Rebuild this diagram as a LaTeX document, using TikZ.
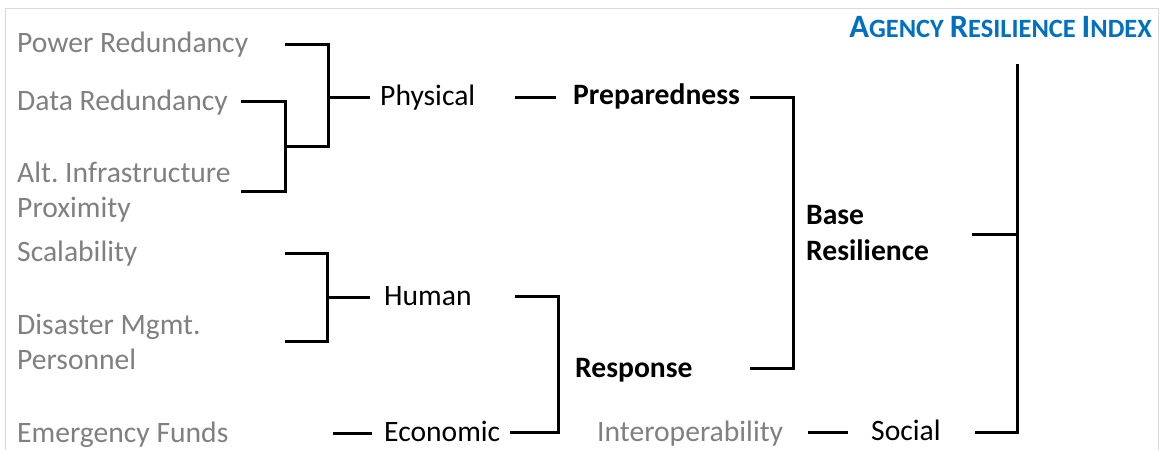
\documentclass[tikz,border=0pt]{standalone}
\usepackage{fontspec}
\setmainfont{Carlito}
\frenchspacing
\definecolor{lbl}{HTML}{808080}
\definecolor{ttl}{HTML}{0070C0}
\definecolor{frm}{HTML}{D9D9D9}
\begin{document}
\begin{tikzpicture}[x=1pt,y=-1pt,
  leaf/.style={anchor=base west,inner sep=0pt,text=lbl,font=\fontsize{29.6}{35}\selectfont\frenchspacing,align=left},
  mid/.style={anchor=base west,inner sep=0pt,text=black,font=\fontsize{29.6}{35}\selectfont},
  key/.style={anchor=base west,inner sep=0pt,text=black,font=\fontsize{29.6}{36}\selectfont\bfseries,align=left},
  link/.style={line width=3pt,line join=miter}]
\useasboundingbox (0,0) rectangle (1160,450);
\draw[frm,line width=1.5pt] (5.5,450) |- (1158.5,8.5) -- (1158.5,450);
% title
\node[anchor=base east,inner sep=0pt,text=ttl,font=\bfseries] (title) at (1152,37)
  {\fontsize{32.6}{35}\selectfont A\fontsize{26.4}{35}\selectfont GENCY
   \fontsize{32.6}{35}\selectfont R\fontsize{26.4}{35}\selectfont ESILIENCE
   \fontsize{32.6}{35}\selectfont I\fontsize{26.4}{35}\selectfont NDEX};
% leaves
\node[leaf] (power) at (17,52) {Power Redundancy};
\node[leaf] (data) at (17,110) {Data Redundancy};
\node[leaf] (alt) at (17,217) {Alt. Infrastructure\\Proximity};
\node[leaf] (scal) at (17,261) {Scalability};
\node[leaf] (dis) at (17,369) {Disaster Mgmt.\\Personnel};
\node[leaf] (funds) at (17,442) {Emergency Funds};
\node[leaf] (interop) at (597,441) {Interoperability};
% middle
\node[mid] (phys) at (380,105) {Physical};
\node[mid] (human) at (384,305) {Human};
\node[mid] (econ) at (384,441) {Economic};
\node[mid] (social) at (871,440) {Social};
% key
\node[key] (prep) at (573,104) {Preparedness};
\node[key] (resp) at (575,377) {Response};
\node[key] (base) at (806,260) {Base\\Resilience};
% coordinates
\coordinate (pw1) at (285,44); \coordinate (pw2) at (328,44);
\coordinate (pb2) at (328,146); \coordinate (pm) at (328,97); \coordinate (pe) at (370,97);
\coordinate (d1) at (241,101); \coordinate (d2) at (285,101);
\coordinate (d3) at (285,191); \coordinate (d4) at (241,191); \coordinate (dm) at (285,146);
\coordinate (s1) at (285,253); \coordinate (s2) at (327,253);
\coordinate (s3) at (327,341); \coordinate (s4) at (285,341);
\coordinate (sm) at (327,297); \coordinate (se) at (370,297);
\coordinate (f1) at (333,433); \coordinate (f2) at (372,433);
\coordinate (h1) at (515,296); \coordinate (h2) at (558,296);
\coordinate (h3) at (558,432); \coordinate (h4) at (510,432);
\coordinate (ph1) at (515,97); \coordinate (ph2) at (556,97);
\coordinate (b1) at (750,97); \coordinate (b2) at (793,97);
\coordinate (b3) at (793,368); \coordinate (b4) at (750,368);
\coordinate (i1) at (1017,64); \coordinate (i2) at (1017,432); \coordinate (i3) at (975,432);
\coordinate (im) at (1017,234); \coordinate (ib) at (972,234);
\coordinate (o1) at (808,432); \coordinate (o2) at (848,432);
% connectors
\draw[link] (pw1) -- (pw2) -- (pb2) -- (dm);
\draw[link] (pm) -- (pe);
\draw[link] (d1) -- (d2) -- (d3) -- (d4);
\draw[link] (s1) -- (s2) -- (s3) -- (s4);
\draw[link] (sm) -- (se);
\draw[link] (f1) -- (f2);
\draw[link] (h1) -- (h2) -- (h3) -- (h4);
\draw[link] (ph1) -- (ph2);
\draw[link] (b1) -- (b2) -- (b3) -- (b4);
\draw[link] (i1) -- (i2) -- (i3);
\draw[link] (ib) -- (im);
\draw[link] (o1) -- (o2);
\end{tikzpicture}
\end{document}
